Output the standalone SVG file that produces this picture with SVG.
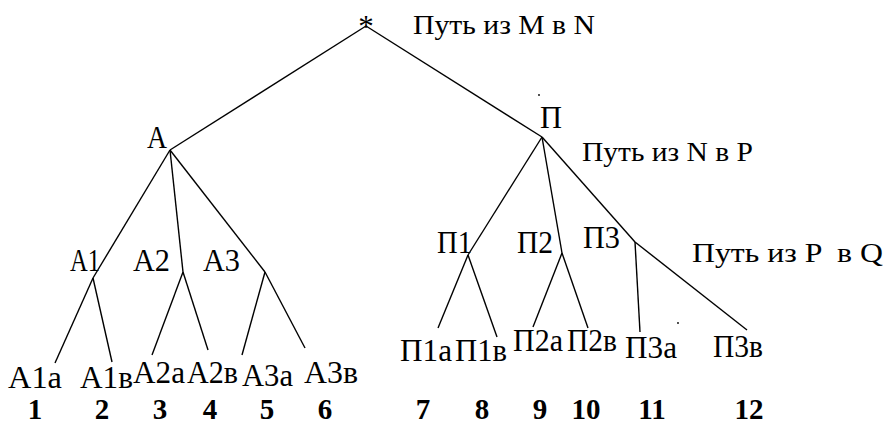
<svg xmlns="http://www.w3.org/2000/svg" width="887" height="425" viewBox="0 0 887 425">
<style>
.t{font-family:"Liberation Serif","DejaVu Serif",serif;font-size:31px;fill:#000}
.p{font-family:"Liberation Serif","DejaVu Serif",serif;font-size:28px;fill:#000}
.n{font-family:"Liberation Serif","DejaVu Serif",serif;font-size:29px;font-weight:bold;fill:#000;text-anchor:middle}
.e{stroke:#000;stroke-width:1.4;fill:none}
</style>
<rect width="887" height="425" fill="#fff"/>
<g id="connectors">
<line class="e" x1="366" y1="26" x2="170" y2="150"/>
<line class="e" x1="366" y1="26" x2="542" y2="137"/>
<line class="e" x1="170" y1="150" x2="93" y2="278"/>
<line class="e" x1="170" y1="150" x2="183" y2="272"/>
<line class="e" x1="170" y1="150" x2="265" y2="272"/>
<line class="e" x1="93" y1="278" x2="55" y2="363"/>
<line class="e" x1="93" y1="278" x2="112" y2="362"/>
<line class="e" x1="183" y1="272" x2="152" y2="355"/>
<line class="e" x1="183" y1="272" x2="208" y2="350"/>
<line class="e" x1="265" y1="272" x2="242" y2="355"/>
<line class="e" x1="265" y1="272" x2="305" y2="348"/>
<line class="e" x1="542" y1="137" x2="468" y2="255"/>
<line class="e" x1="542" y1="137" x2="562" y2="253"/>
<line class="e" x1="542" y1="137" x2="635" y2="242"/>
<line class="e" x1="468" y1="255" x2="438" y2="328"/>
<line class="e" x1="468" y1="255" x2="497" y2="337"/>
<line class="e" x1="562" y1="253" x2="533" y2="327"/>
<line class="e" x1="562" y1="253" x2="588" y2="328"/>
<line class="e" x1="635" y1="242" x2="640" y2="332"/>
<line class="e" x1="635" y1="242" x2="747" y2="330"/>
</g>
<g id="dots">
<circle cx="539" cy="95" r="0.9" fill="#000"/>
<circle cx="678" cy="323" r="0.9" fill="#000"/>
</g>
<g id="root"><text class="t" x="366" y="37" text-anchor="middle">*</text></g>
<g id="label-MN"><text class="p" x="413" y="34" textLength="182" lengthAdjust="spacingAndGlyphs">Путь из M в N</text></g>
<g id="label-NP"><text class="p" x="582" y="161" textLength="171" lengthAdjust="spacingAndGlyphs">Путь из N в P</text></g>
<g id="label-PQ"><text class="p" x="692" y="262" textLength="191" lengthAdjust="spacingAndGlyphs" xml:space="preserve">Путь из P  в Q</text></g>
<g id="node-A"><text class="t" x="147" y="148" textLength="20" lengthAdjust="spacingAndGlyphs">A</text></g>
<g id="node-P"><text class="t" x="540" y="128" textLength="22" lengthAdjust="spacingAndGlyphs">П</text></g>
<g id="node-A1"><text class="t" x="70" y="271" textLength="30" lengthAdjust="spacingAndGlyphs">A1</text></g>
<g id="node-A2"><text class="t" x="133" y="271" textLength="37" lengthAdjust="spacingAndGlyphs">A2</text></g>
<g id="node-A3"><text class="t" x="203" y="271" textLength="37" lengthAdjust="spacingAndGlyphs">A3</text></g>
<g id="node-P1"><text class="t" x="437" y="253" textLength="35" lengthAdjust="spacingAndGlyphs">П1</text></g>
<g id="node-P2"><text class="t" x="517" y="253" textLength="36" lengthAdjust="spacingAndGlyphs">П2</text></g>
<g id="node-P3"><text class="t" x="583" y="248" textLength="37" lengthAdjust="spacingAndGlyphs">П3</text></g>
<g id="leaf-A1a"><text class="t" x="8" y="388" textLength="54" lengthAdjust="spacingAndGlyphs">A1a</text></g>
<g id="leaf-A1b"><text class="t" x="80" y="388" textLength="53" lengthAdjust="spacingAndGlyphs">A1в</text></g>
<g id="leaf-A2a"><text class="t" x="133" y="383" textLength="52" lengthAdjust="spacingAndGlyphs">A2a</text></g>
<g id="leaf-A2b"><text class="t" x="187" y="383" textLength="51" lengthAdjust="spacingAndGlyphs">A2в</text></g>
<g id="leaf-A3a"><text class="t" x="242" y="386" textLength="51" lengthAdjust="spacingAndGlyphs">A3a</text></g>
<g id="leaf-A3b"><text class="t" x="304" y="383" textLength="54" lengthAdjust="spacingAndGlyphs">A3в</text></g>
<g id="leaf-P1a"><text class="t" x="400" y="361" textLength="52" lengthAdjust="spacingAndGlyphs">П1a</text></g>
<g id="leaf-P1b"><text class="t" x="455" y="361" textLength="52" lengthAdjust="spacingAndGlyphs">П1в</text></g>
<g id="leaf-P2a"><text class="t" x="513" y="351" textLength="50" lengthAdjust="spacingAndGlyphs">П2a</text></g>
<g id="leaf-P2b"><text class="t" x="567" y="351" textLength="50" lengthAdjust="spacingAndGlyphs">П2в</text></g>
<g id="leaf-P3a"><text class="t" x="625" y="358" textLength="52" lengthAdjust="spacingAndGlyphs">П3a</text></g>
<g id="leaf-P3b"><text class="t" x="713" y="357" textLength="50" lengthAdjust="spacingAndGlyphs">П3в</text></g>
<g id="numbers">
<text class="n" x="35" y="419">1</text>
<text class="n" x="102" y="419">2</text>
<text class="n" x="160" y="419">3</text>
<text class="n" x="210" y="419">4</text>
<text class="n" x="267" y="419">5</text>
<text class="n" x="325" y="419">6</text>
<text class="n" x="423" y="419">7</text>
<text class="n" x="482" y="419">8</text>
<text class="n" x="540" y="419">9</text>
<text class="n" x="586" y="419">10</text>
<text class="n" x="652" y="419">11</text>
<text class="n" x="749" y="419">12</text>
</g>
</svg>
